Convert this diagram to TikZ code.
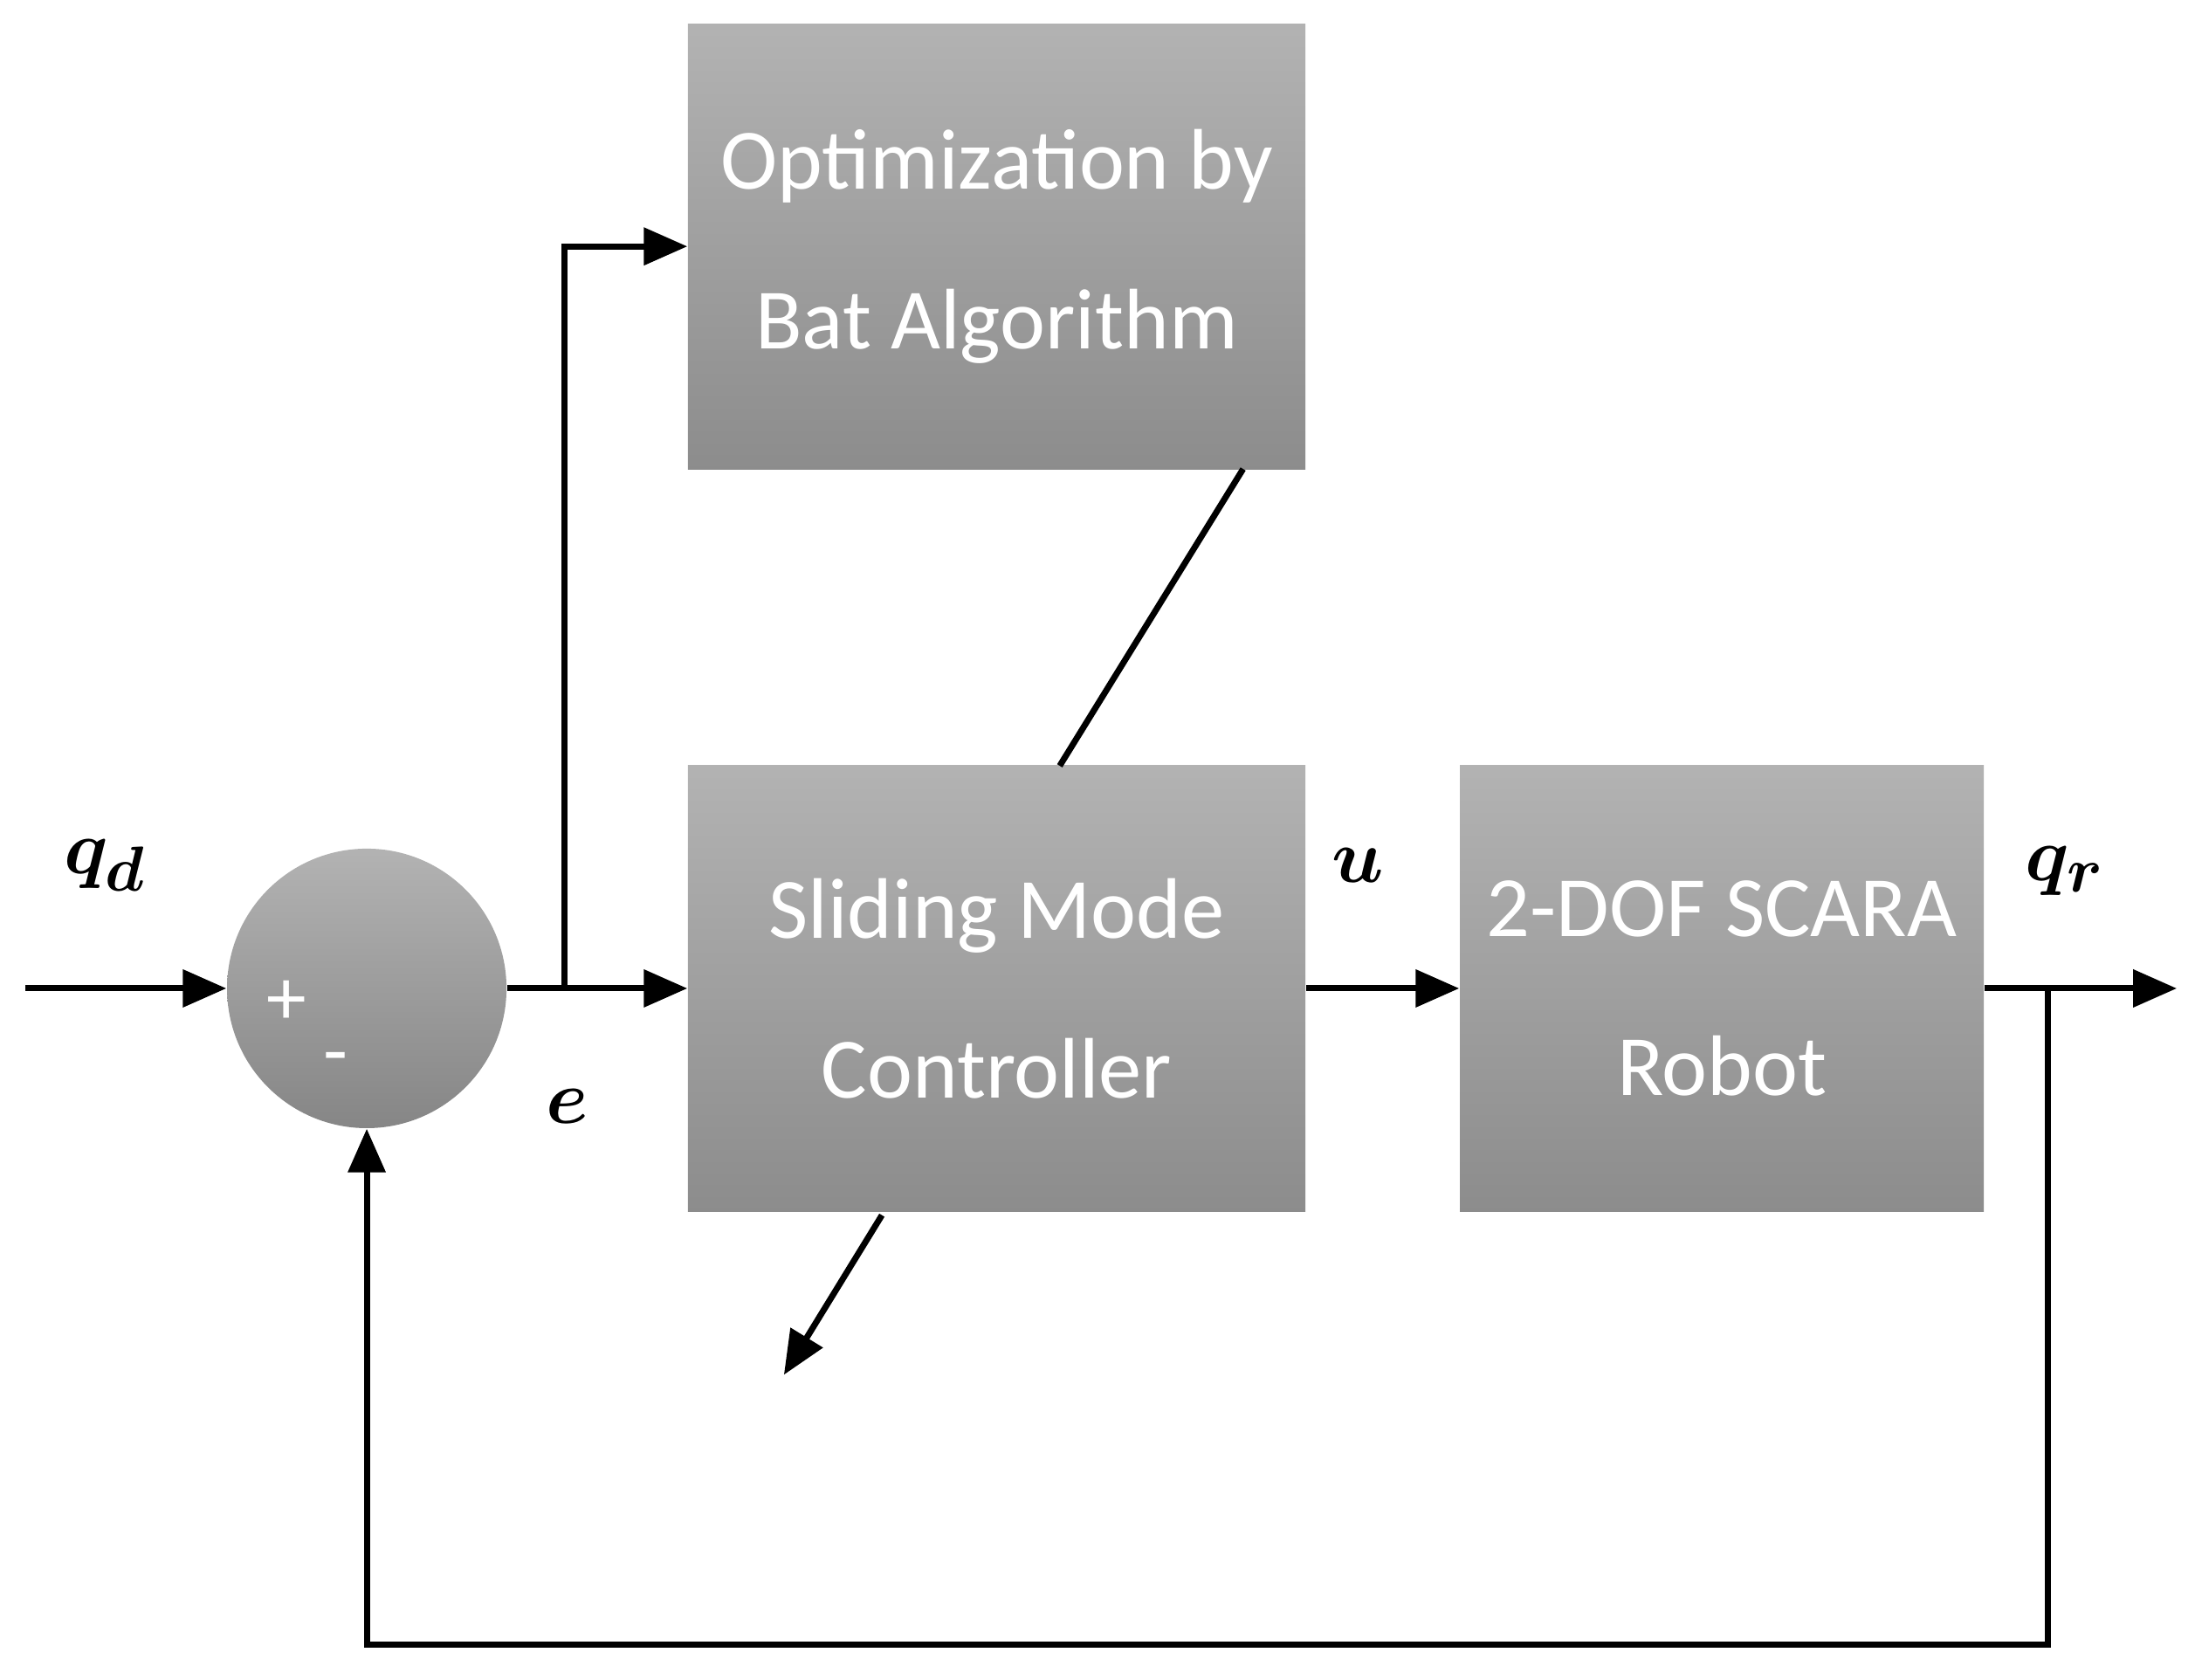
\documentclass[tikz,border=0pt]{standalone}
\usepackage{fontspec}
\setmainfont{Carlito}
\usepackage{amsmath}
\usepackage{bm}
\usetikzlibrary{arrows.meta,positioning,calc}
\begin{document}
\begin{tikzpicture}[x=0.1603mm,y=-0.1603mm,>={Triangle[length=5mm,width=4.2mm]}]
\tikzstyle{block}=[draw=none, rectangle, top color=gray!60, bottom color=gray!90, text=white, font=\fontsize{28}{52}\selectfont, align=center, inner sep=0pt]
\tikzstyle{sumnode}=[circle, top color=gray!60, bottom color=gray!95, minimum size=3.2cm, inner sep=0pt]
\tikzstyle{sig}=[line width=2pt]
\tikzstyle{lbl}=[font=\fontsize{30}{30}\selectfont]
\useasboundingbox (0,0) rectangle (1568,1200);
% blocks
\node[block, minimum width=7.07cm, minimum height=5.1cm] (opt) at (712,176) {Optimization by\\Bat Algorithm};
\node[block, minimum width=7.07cm, minimum height=5.1cm] (smc) at (712,706) {Sliding Mode\\Controller};
\node[block, minimum width=6cm, minimum height=5.1cm] (robot) at (1230,706) {2-DOF SCARA\\Robot};
\node[sumnode] (sum) at (262,706) {};
\node[text=white, font=\fontsize{26}{26}\selectfont] (plus) at (205,716) {+};
\node[text=white, font=\fontsize{26}{26}\selectfont] (minus) at (240,761) {-};
% coordinates
\coordinate (in) at (18,706);
\coordinate (split) at (403,706);
\coordinate (tap) at (1463,706);
\coordinate (out) at (1555,706);
\coordinate (fb) at (1463,1175);
\coordinate (adjA) at (630,868);
\coordinate (adjB) at (560,982);
% connectors
\draw[sig,->] (in) -- (sum.west);
\draw[sig,->] (sum.east) -- (smc.west);
\draw[sig,->] (split) |- (opt.west);
\draw[sig,->] (smc.east) -- (robot.west);
\draw[sig,->] (robot.east) -- (out);
\draw[sig,->] (tap) -- (fb) -| (sum.south);
\draw[sig] (888,335) -- (757,547);
\draw[sig,->] (adjA) -- (adjB);
% labels
\node[lbl] (qd) at (75,618) {$\bm{q_d}$};
\node[lbl] (e) at (405,790) {$\bm{e}$};
\node[lbl] (u) at (970,618) {$\bm{u}$};
\node[lbl] (qr) at (1475,622) {$\bm{q_r}$};
\end{tikzpicture}
\end{document}
